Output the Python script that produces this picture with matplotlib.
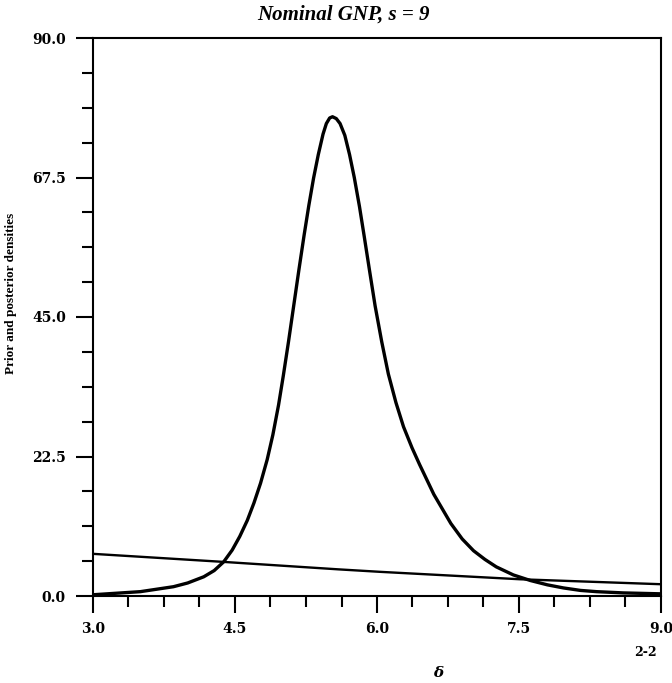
import matplotlib.pyplot as plt
from matplotlib.ticker import MultipleLocator, FormatStrFormatter

# posterior density
post_x = [3.0, 3.5, 3.85, 4.0, 4.17, 4.28, 4.38, 4.47, 4.55, 4.63, 4.70, 4.77,
          4.84, 4.90, 4.96, 5.01, 5.065, 5.12, 5.175, 5.23, 5.28, 5.33, 5.38,
          5.43, 5.465, 5.50, 5.53, 5.57, 5.61, 5.66, 5.71, 5.76, 5.815, 5.865,
          5.92, 5.98, 6.05, 6.12, 6.20, 6.28, 6.37, 6.45, 6.60, 6.78, 6.90, 7.02,
          7.14, 7.26, 7.44, 7.62, 7.80, 7.97, 8.15, 8.32, 8.60, 9.0]
post_y = [0.2, 0.7, 1.5, 2.1, 3.1, 4.1, 5.5, 7.4, 9.6, 12.2, 15.0, 18.2,
          22.0, 26.0, 30.8, 35.5, 41.0, 46.8, 52.6, 58.2, 63.0, 67.4, 71.2,
          74.5, 76.2, 77.1, 77.3, 77.0, 76.2, 74.3, 71.2, 67.5, 62.8, 58.0,
          52.6, 46.8, 41.0, 35.8, 31.2, 27.3, 23.9, 21.2, 16.4, 11.7, 9.2, 7.3,
          5.9, 4.7, 3.4, 2.5, 1.8, 1.3, 0.9, 0.7, 0.5, 0.35]

# prior density
prior_x = [3.0, 4.38, 5.59, 6.03, 7.51, 9.0]
prior_y = [6.8, 5.5, 4.3, 3.9, 2.7, 1.9]

title = "Nominal GNP, s = 9"
ylab = "Prior and posterior densities"

fig = plt.figure(figsize=(6.72, 6.83), dpi=100)
ax = fig.add_axes([93/672, 87/683, 568/672, 558/683])

ax.plot(post_x, post_y, color="black", lw=2.4, solid_joinstyle="round")
ax.plot(prior_x, prior_y, color="black", lw=1.7)

ax.set_xlim(3.0, 9.0)
ax.set_ylim(0.0, 90.0)

ax.xaxis.set_major_locator(MultipleLocator(1.5))
ax.xaxis.set_minor_locator(MultipleLocator(0.375))
ax.yaxis.set_major_locator(MultipleLocator(22.5))
ax.yaxis.set_minor_locator(MultipleLocator(5.625))
ax.xaxis.set_major_formatter(FormatStrFormatter("%.1f"))
ax.yaxis.set_major_formatter(FormatStrFormatter("%.1f"))

ax.tick_params(which="both", direction="out", top=False, right=False, width=1.5)
ax.tick_params(which="major", length=12.5)
ax.tick_params(which="minor", length=8)
ax.tick_params(axis="x", which="major", pad=6)
ax.tick_params(axis="y", which="major", pad=7)
for lbl in ax.get_xticklabels() + ax.get_yticklabels():
    lbl.set_family("DejaVu Serif")
    lbl.set_fontweight("bold")
    lbl.set_fontsize(10)

for s in ax.spines.values():
    s.set_linewidth(1.5)

fig.text(343/672, 1 - 15/683, title, family="Liberation Serif", style="italic",
         fontweight="bold", fontsize=15, ha="center", va="center")
ax.set_ylabel(ylab, family="Liberation Serif", fontweight="bold", fontsize=9.5)
ax.yaxis.set_label_coords(-0.134, 0.543)
ax.set_xlabel("δ", family="DejaVu Serif", style="italic", fontweight="bold", fontsize=11)
ax.xaxis.set_label_coords(0.607, -0.125)

fig.text(645/672, 1 - 652/683, "2-2", family="DejaVu Serif", fontweight="bold",
         fontsize=9, ha="center", va="center")

plt.savefig("out.png", dpi=100)
